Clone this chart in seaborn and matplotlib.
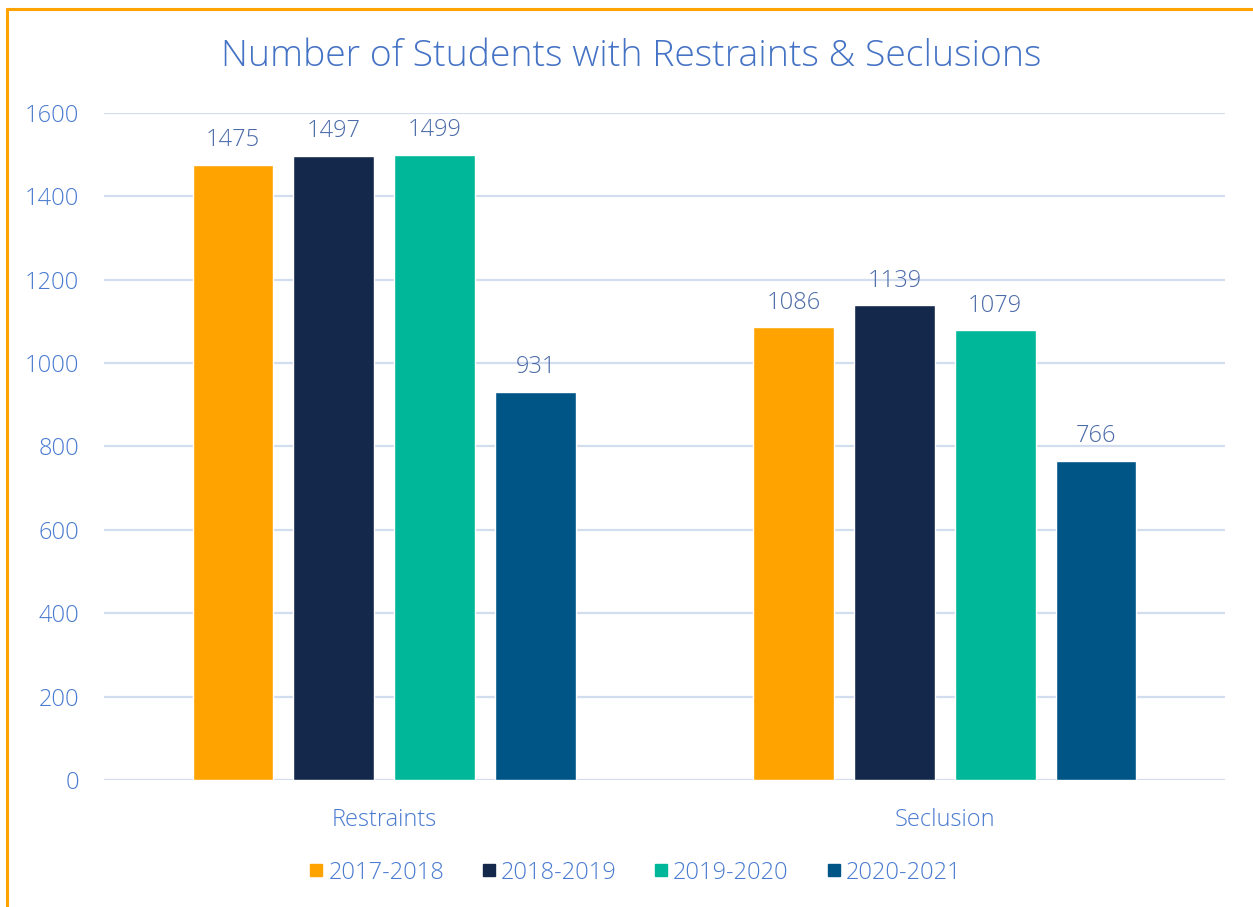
import pandas as pd
import seaborn as sns
import matplotlib.pyplot as plt
from matplotlib.lines import Line2D

# data
categories = ["Restraints", "Seclusion"]
periods = ["2017-2018", "2018-2019", "2019-2020", "2020-2021"]
restraints = [1475, 1497, 1499, 931]
seclusion = [1086, 1139, 1079, 766]
colors = ["#FFA300", "#14284B", "#00B899", "#005587"]

TEXT = "#4A7BD0"
LABEL = "#4A6AA8"
GRID = "#D3DDF0"

df = pd.DataFrame({
    "category": [categories[0]] * 4 + [categories[1]] * 4,
    "period": periods + periods,
    "count": restraints + seclusion,
})

sns.set_style("white")
plt.rcParams["font.family"] = ["Open Sans", "DejaVu Sans"]
plt.rcParams["font.weight"] = "light"

fig = plt.figure(figsize=(12.53, 9.07), dpi=100)
ax = fig.add_axes([0.083, 0.140, 0.8947, 0.7356])

sns.barplot(data=df, x="category", y="count", hue="period",
            palette=colors, width=0.72, gap=0.2, ax=ax,
            saturation=1, legend=False)

for cont in ax.containers:
    ax.bar_label(cont, fmt="%d", padding=9, fontsize=17, color=LABEL,
                 fontweight="light")

ax.set_xlim(-0.5, 1.5)
ax.set_ylim(0, 1600)
ax.set_yticks(range(0, 1601, 200))
ax.set_xlabel("")
ax.set_ylabel("")
ax.grid(axis="y", color=GRID, linewidth=1.6)
ax.set_axisbelow(True)
for s in ax.spines.values():
    s.set_visible(False)
ax.tick_params(axis="y", length=0, pad=18, labelsize=17, labelcolor=TEXT)
ax.tick_params(axis="x", length=0, pad=20, labelsize=17, labelcolor=TEXT)

fig.text(0.5035, 0.938, "Number of Students with Restraints & Seclusions",
         ha="center", va="center", fontsize=26.9, color="#4472C4",
         fontweight="light")

handles = [Line2D([], [], marker="s", linestyle="none", markersize=9,
                  markerfacecolor=c, markeredgecolor=c) for c in colors]
fig.legend(handles, periods, loc="center", bbox_to_anchor=(0.507, 0.038),
           ncol=4, frameon=False, fontsize=17, labelcolor=TEXT,
           handlelength=0.6, handletextpad=0.2, columnspacing=1.6)

# orange frame (only left and top edges visible in the crop)
fig.add_artist(Line2D([7 / 1253, 7 / 1253], [0, 1 - 9 / 907], color="#FFA300",
                      linewidth=2.2, transform=fig.transFigure))
fig.add_artist(Line2D([7 / 1253, 1], [1 - 9 / 907, 1 - 9 / 907], color="#FFA300",
                      linewidth=2.2, transform=fig.transFigure))

fig.savefig("out.png", dpi=100)
